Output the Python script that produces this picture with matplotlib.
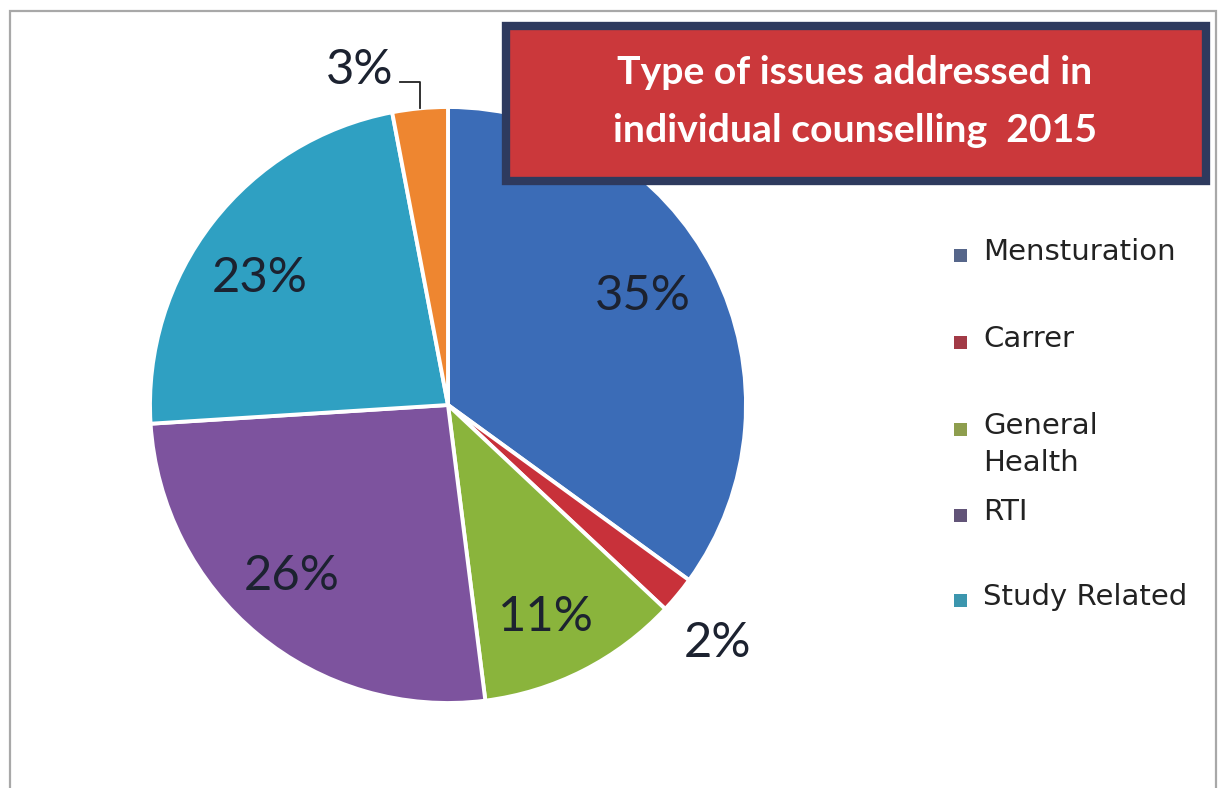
import matplotlib
matplotlib.use("Agg")
import matplotlib.pyplot as plt
from matplotlib.patches import Rectangle
from matplotlib import font_manager
import numpy as np

# ---- data ----
categories = ["Mensturation", "Carrer", "General Health", "RTI", "Study Related", "Others"]
values = [35, 2, 11, 26, 23, 3]
pct_labels = ["35%", "2%", "11%", "26%", "23%", "3%"]
legend_labels = ["Mensturation", "Carrer", "General\nHealth", "RTI", "Study Related"]
title_lines = ["Type of issues addressed in", "individual counselling  2015"]

# ---- style ----
pie_colors = ["#3B6CB7", "#C8313A", "#8AB43C", "#7D539E", "#2FA0C2", "#EE8630"]
legend_colors = ["#56668A", "#A23A46", "#8E9E4E", "#625478", "#3C96AE"]
label_dist = [0.755, 1.20, 0.772, 0.768, 0.77, None]
label_shift = [3.0, -1.4, -1.9, -3.4, 3.0, 0.0]   # degrees

# choose a narrow-ish font
names = {f.name for f in font_manager.fontManager.ttflist}
NARROW = None
for cand in ["Liberation Sans Narrow", "Lato", "Open Sans", "Liberation Sans"]:
    if cand in names:
        NARROW = [cand, "DejaVu Sans"]
        break
if NARROW is None:
    NARROW = ["DejaVu Sans"]

W, H = 1220, 788
fig = plt.figure(figsize=(W / 100, H / 100), dpi=100)
fig.patch.set_facecolor("white")
renderer = fig.canvas.get_renderer()


def fx(x):
    return x / W


def fy(y):
    return 1 - y / H


def fit_width(t, target_px):
    bb = t.get_window_extent(renderer=renderer)
    t.set_fontsize(t.get_fontsize() * target_px / bb.width)


# outer frame
fig.patches.append(Rectangle((fx(10), fy(800)), fx(1216) - fx(10), fy(11) - fy(800),
                             transform=fig.transFigure, fill=False,
                             edgecolor="#A8A8A8", linewidth=1.6))

# pie
cx, cy, half = 448, 405, 300
ax = fig.add_axes([fx(cx - half), fy(cy + half), 2 * half / W, 2 * half / H])
R = 298 / half
wedges, _ = ax.pie(values, colors=pie_colors, startangle=90, counterclock=False,
                   radius=R, wedgeprops=dict(edgecolor="white", linewidth=2.8))
ax.set_xlim(-1, 1)
ax.set_ylim(-1, 1)
ax.set_aspect("equal")
ax.axis("off")

pct_size = None
for w, lab, d, sh in zip(wedges, pct_labels, label_dist, label_shift):
    mid = np.deg2rad((w.theta1 + w.theta2) / 2 + sh)
    if d is not None:
        t = ax.text(d * R * np.cos(mid), d * R * np.sin(mid) - 0.012, lab,
                    ha="center", va="center", fontsize=34, family=NARROW, color="#1c2230")
    else:
        x0, y0 = R * np.cos(mid), R * np.sin(mid)
        ye = 1.084 * R
        xe = x0 - 0.068 * R
        ax.plot([x0, x0, xe], [y0, ye, ye], color="#222222", lw=1.3, clip_on=False)
        t = ax.text(xe - 0.02, ye + 0.04, lab, ha="right", va="center",
                    fontsize=34, family=NARROW, color="#1c2230", clip_on=False)
    if lab == "35%":
        fit_width(t, 96)
        pct_size = t.get_fontsize()
for t in ax.texts:
    t.set_fontsize(pct_size)

# title box
bx0, by0, bx1, by1 = 506, 26, 1206, 181
fig.patches.append(Rectangle((fx(bx0), fy(by1)), fx(bx1) - fx(bx0), fy(by0) - fy(by1),
                             transform=fig.transFigure, facecolor="#CB383B",
                             edgecolor="#2E3A5E", linewidth=6))
t1 = fig.text(fx(855), fy(73), title_lines[0], ha="center", va="center", color="white",
              fontsize=28, fontweight="bold", family=NARROW)
fit_width(t1, 476)
t2 = fig.text(fx(855), fy(130), title_lines[1], ha="center", va="center", color="white",
              fontsize=t1.get_fontsize(), fontweight="bold", family=NARROW)

# legend (manual)
ys = [255, 342, 429, 515, 600]
for lab, col, y in zip(legend_labels, legend_colors, ys):
    fig.patches.append(Rectangle((fx(954), fy(y + 7)), 13 / W, 13 / H,
                                 transform=fig.transFigure, facecolor=col, edgecolor="none"))
    fig.text(fx(983), fy(y - 17), lab, ha="left", va="top", fontsize=21,
             family=["DejaVu Sans"], color="#222222", linespacing=1.4)

fig.savefig("out.png", dpi=100)
